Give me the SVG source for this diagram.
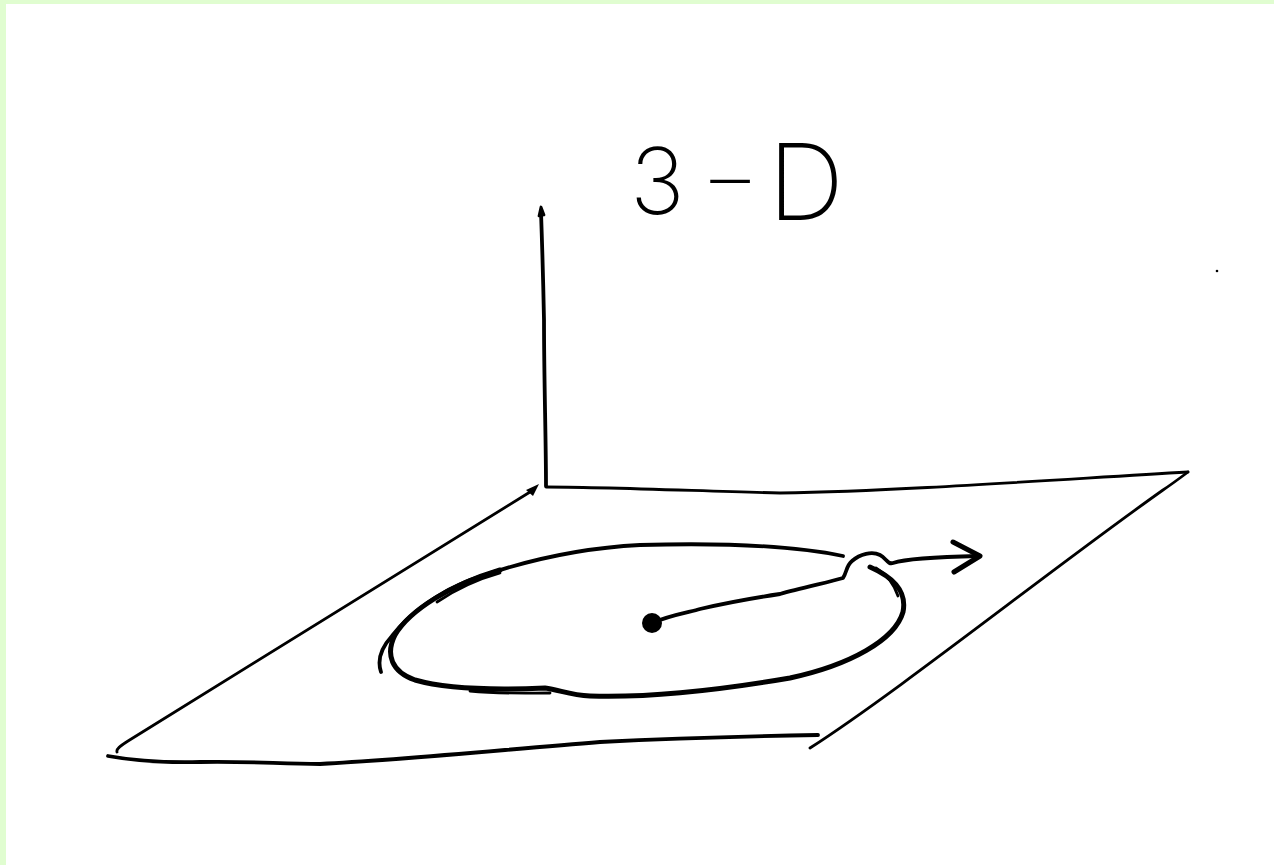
<svg xmlns="http://www.w3.org/2000/svg" width="1274" height="865" viewBox="0 0 1274 865">
<style>
.ink{fill:none;stroke:#000;stroke-linecap:round;stroke-linejoin:round}
.thin{stroke-width:2.8}
.mid{stroke-width:3.8}
.bold{stroke-width:5}
.lbl{font-family:Inter,"Liberation Sans",sans-serif;font-weight:200;font-size:96px;fill:#000}
</style>
<rect x="0" y="0" width="1274" height="865" fill="#fff"/>
<rect x="0" y="0" width="1274" height="4" fill="#e0fdd0"/>
<rect x="0" y="0" width="6" height="865" fill="#e0fdd0"/>

<g id="title">
<text class="lbl"><tspan x="630" y="214" font-size="92">3</tspan><tspan x="698" y="227" font-size="146" font-weight="100">-</tspan><tspan x="768" y="220" font-size="106">D</tspan></text>
</g>

<g id="axis">
<path class="ink mid" d="M546,486 C546,440 544,380 544,320 C543,270 542,240 541,212"/>
<path class="ink thin" d="M539,216 L541,207 L544,215"/>
</g>

<g id="plane">
<path class="ink thin" d="M546,487 C600,487 700,491 780,493 C900,491 1050,480 1188,472"/>
<path class="ink thin" d="M1188,472 C1180,478 1172,484 1163,490 C1050,570 900,690 810,748"/>
<path class="ink thin" d="M530,492 L128,741 C120,746 116,749 117,752"/>
<path class="ink mid" d="M108,756 C130,760 160,763 200,762 C250,761 280,764 320,764 C400,760 500,750 600,742 C680,738 760,736 818,735"/>
<path d="M526,490 L539,484 L533,496 Z" fill="#000"/>
<circle cx="1217" cy="271" r="1.3" fill="#000"/>
</g>

<g id="orbit">
<path class="ink mid" d="M381,672 C377,660 381,648 392,636 C410,612 440,592 470,580 C520,562 580,548 640,545 C710,543 790,545 843,556"/>
<path class="ink bold" d="M500,570 C450,585 410,610 395,635 C385,655 392,672 415,680 C450,690 500,690 545,688 C560,690 570,695 590,696 C650,698 720,690 790,678 C850,665 895,640 903,612 C907,592 895,578 870,567"/>
<path class="ink thin" d="M437,602 C455,590 475,580 500,573"/>
<path class="ink thin" d="M470,691 C500,694 525,693 550,693"/>
<path class="ink thin" d="M876,568 C886,574 894,584 898,596"/>
</g>

<g id="center">
<circle cx="652" cy="623" r="10" fill="#000"/>
</g>

<g id="connectors">
<path class="ink mid" d="M652,623 C670,615 690,612 700,609 C730,602 760,597 780,594 C800,588 830,582 843,578 C847,572 846,566 852,561 C860,554 872,551 880,555 C886,558 888,565 893,563 C905,559 930,557 978,556"/>
<path class="ink bold" d="M953,542 L980,556 L954,572"/>
</g>
</svg>
